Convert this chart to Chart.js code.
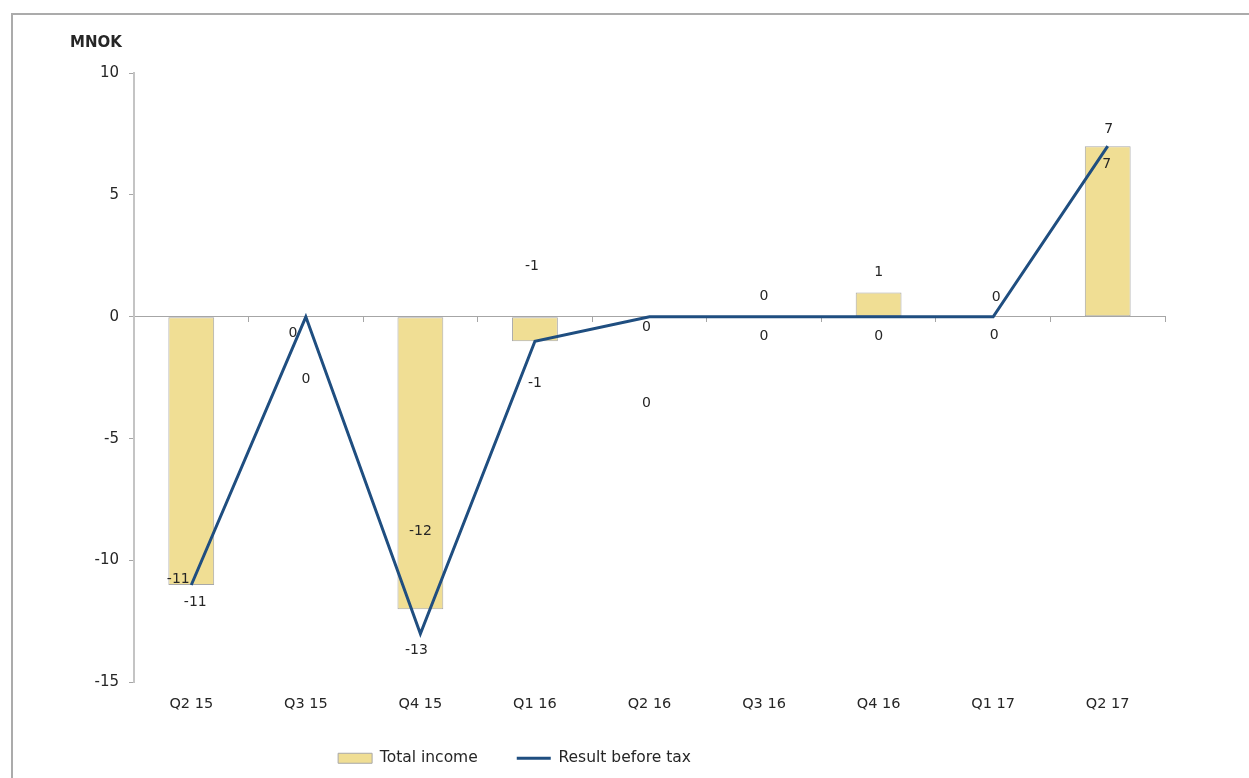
<!DOCTYPE html>
<html>
<head>
<meta charset="utf-8">
<title>MNOK</title>
<script src="https://cdn.jsdelivr.net/npm/chart.js@4"></script>
<style>
  html, body { margin: 0; padding: 0; background: #fff; overflow: hidden; }
  #frame { position: absolute; left: 11px; top: 13px; width: 1300px; height: 800px; border-top: 2px solid #ababab; border-left: 2px solid #ababab; }
  #chart { position: absolute; left: 0; top: 0; }
</style>
</head>
<body>
<div id="frame"></div>
<canvas id="chart" width="1249" height="778"></canvas>
<script>
// quarters on the x axis
const quarters = ["Q2 15", "Q3 15", "Q4 15", "Q1 16", "Q2 16", "Q3 16", "Q4 16", "Q1 17", "Q2 17"];
const totalIncome = [-11, 0, -12, -1, 0, 0, 1, 0, 7];      // bars
const resultBeforeTax = [-11, 0, -13, -1, 0, 0, 0, 0, 7];  // line
const yTicks = [-15, -10, -5, 0, 5, 10];                   // y axis tick labels

// label nudges in px [dx, dy], the original has hand placed value labels
const barLabelNudge = [[-13, -6], [0, 63], [0, -78], [-3, -75], [-3, 87], [0, -20], [0, -20], [3, -19], [1, -17]];
const lineLabelNudge = [[4, 17], [-13, 17], [-4, 17], [0, 42], [-3, 11], [0, 20], [0, 20], [1, 19], [-1, 18]];

const FONT = "'DejaVu Sans', Verdana, sans-serif";
const TEXT = "#262626";

// draws the value labels next to bars and line points
const valueLabels = {
    id: "valueLabels",
    afterDatasetsDraw(chart) {
        const ctx = chart.ctx;
        ctx.save();
        ctx.font = "14px " + FONT;
        ctx.fillStyle = TEXT;
        ctx.textAlign = "center";
        ctx.textBaseline = "middle";
        chart.data.datasets.forEach((ds, i) => {
            const nudge = i === 0 ? barLabelNudge : lineLabelNudge;
            chart.getDatasetMeta(i).data.forEach((el, j) => {
                ctx.fillText(String(ds.data[j]), el.x + nudge[j][0], el.y + nudge[j][1]);
            });
        });
        ctx.restore();
    }
};

// the legend sits left of centre in the original
const legendPlace = {
    id: "legendPlace",
    afterLayout(chart) {
        chart.legend.left = 140;
        chart.legend.right = 889;
        chart.legend.top -= 2;
    }
};

new Chart(document.getElementById("chart"), {
    type: "bar",
    data: {
        labels: quarters,
        datasets: [{
            label: "Total income",
            data: totalIncome,
            backgroundColor: "#f0de94",
            borderColor: "#a8a8a8",
            borderWidth: 1,
            borderSkipped: false,
            categoryPercentage: 1,
            barPercentage: 0.4,
            xAxisID: "x",
            order: 1
        }, {
            type: "line",
            label: "Result before tax",
            data: resultBeforeTax,
            borderColor: "#1f4e80",
            backgroundColor: "#1f4e80",
            borderWidth: 3,
            pointRadius: 0,
            tension: 0,
            xAxisID: "x",
            order: 0
        }]
    },
    options: {
        responsive: false,
        animation: false,
        layout: { padding: { top: 20, left: 70, right: 84, bottom: 0 } },
        scales: {
            x: {
                position: { y: 0 },   // zero line with tick marks between quarters
                offset: true,
                grid: { offset: true, drawOnChartArea: false, drawTicks: true, tickLength: 5, color: "#a6a6a6" },
                border: { display: true, color: "#a6a6a6", width: 1 },
                ticks: { display: false }
            },
            x2: {
                type: "category",
                labels: quarters,
                position: "bottom",
                offset: true,
                afterFit: s => { s.height = 31; },
                grid: { display: false, drawTicks: false },
                border: { display: false },
                ticks: { padding: 13, color: TEXT, font: { family: FONT, size: 14.5 } }
            },
            y: {
                min: -15,
                max: 10,
                afterFit: s => { s.width = 64; },
                afterBuildTicks: s => { s.ticks = yTicks.map(v => ({ value: v })); },
                grid: { drawOnChartArea: false, drawTicks: true, tickLength: 5, color: "#a6a6a6" },
                border: { display: true, color: "#c4c4c4", width: 2 },
                ticks: { padding: 10, color: TEXT, font: { family: FONT, size: 15 } }
            }
        },
        plugins: {
            title: {
                display: true,
                text: "MNOK",
                align: "start",
                color: TEXT,
                font: { family: FONT, size: 15, weight: "bold" },
                padding: { top: 14, bottom: 21 }
            },
            legend: {
                position: "bottom",
                labels: {
                    usePointStyle: true,
                    pointStyleWidth: 34,
                    boxHeight: 10,
                    padding: 39,
                    color: TEXT,
                    font: { family: FONT, size: 15.5 },
                    sort: (a, b) => a.datasetIndex - b.datasetIndex,
                    generateLabels(chart) {
                        const items = Chart.defaults.plugins.legend.labels.generateLabels(chart);
                        items.forEach(it => {
                            if (it.datasetIndex === 0) {
                                it.pointStyle = "rect";
                                it.lineWidth = 1;
                            } else {
                                it.pointStyle = "line";
                                it.lineWidth = 3;
                                it.strokeStyle = "#1f4e80";
                            }
                        });
                        return items;
                    }
                }
            },
            tooltip: { enabled: false }
        }
    },
    plugins: [valueLabels, legendPlace]
});
</script>
</body>
</html>
